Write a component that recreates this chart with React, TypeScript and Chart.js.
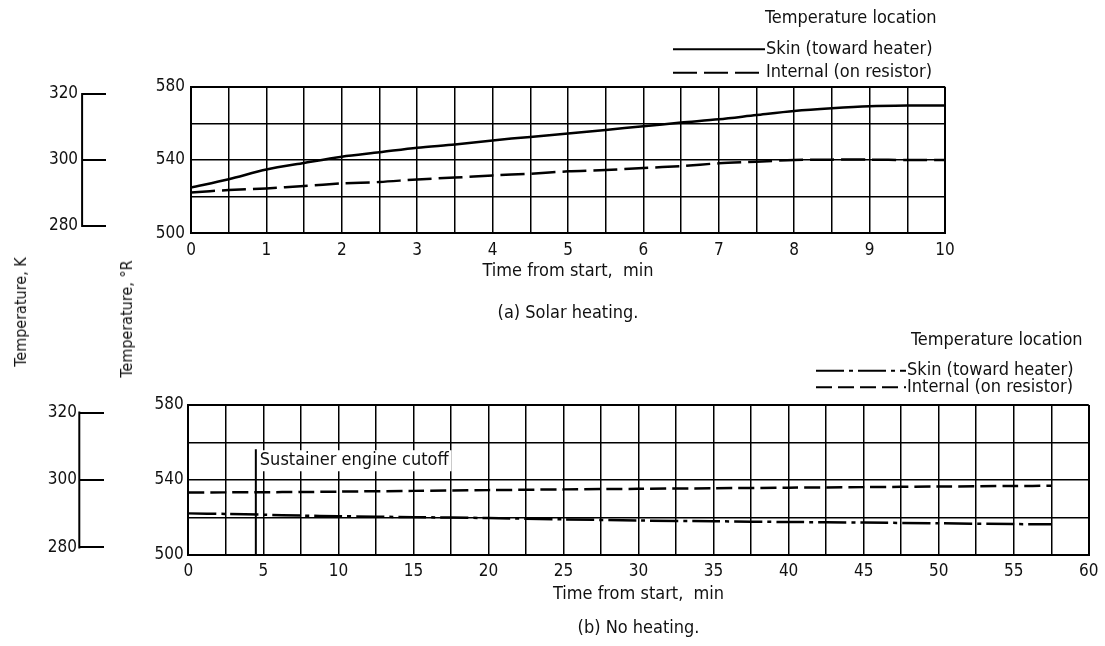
import React, { useEffect, useRef } from 'react';
import { Chart, registerables } from 'chart.js';

Chart.register(...registerables);

const TEXT_FONT = "'DejaVu Sans Condensed', 'DejaVu Sans', sans-serif";
const TICK_FONT = "'DejaVu Sans Condensed', 'DejaVu Sans', sans-serif";
const INK = '#111';

// ---- (a) Solar heating ----
const solarTime = [0, 0.5, 1, 1.5, 2, 2.5, 3, 3.5, 4, 4.5, 5, 5.5, 6, 6.5, 7, 7.5, 8, 8.5, 9, 9.5, 10];
const solarSkin = [525.0, 529.5, 534.8, 538.4, 541.8, 544.2, 546.7, 548.5, 550.7, 552.6, 554.4, 556.4, 558.4, 560.4, 562.2, 564.5, 566.7, 568.2, 569.3, 569.7, 569.8];
const solarInternal = [522.3, 523.6, 524.5, 525.8, 527.2, 528.0, 529.4, 530.4, 531.6, 532.5, 533.8, 534.5, 535.6, 536.7, 538.2, 539.1, 540.0, 540.2, 540.2, 540.0, 540.0];
const solarTimeLabels = [0, 1, 2, 3, 4, 5, 6, 7, 8, 9, 10];

// ---- (b) No heating ----
const noHeatTime = [0, 2.5, 5, 7.5, 10, 15, 20, 25, 30, 35, 40, 45, 50, 55, 57.5];
const noHeatSkin = [522.2, 521.9, 521.5, 521.0, 520.7, 520.2, 519.7, 519.0, 518.4, 518.0, 517.6, 517.3, 516.9, 516.5, 516.4];
const noHeatInternal = [533.3, 533.4, 533.5, 533.6, 533.8, 534.2, 534.6, 535.0, 535.3, 535.6, 535.9, 536.2, 536.5, 536.8, 536.9];
const noHeatTimeLabels = [0, 5, 10, 15, 20, 25, 30, 35, 40, 45, 50, 55, 60];
const cutoffTime = [4.5, 4.5];
const cutoffTemp = [500, 556.4];
const cutoffText = 'Sustainer engine cutoff';

// ---- shared ----
const rankineTickLabels = [500, 540, 580];
const kelvinTicks = [280, 300, 320];
const legendTitle = 'Temperature location';
const seriesNames = ['Skin (toward heater)', 'Internal (on resistor)'];
const xTitle = 'Time from start,  min';

const pts = (xs: number[], ys: number[]) => xs.map((x, i) => ({ x, y: ys[i] }));

const kelvinBracket = {
  id: 'kelvinBracket',
  afterDraw(chart: any) {
    const s = chart.scales.yK;
    if (!s) return;
    const x = s.right - s.options.grid.tickLength;
    const ctx = chart.ctx;
    ctx.save();
    ctx.strokeStyle = '#000';
    ctx.lineWidth = 2;
    ctx.beginPath();
    ctx.moveTo(x, s.getPixelForValue(Math.max(...kelvinTicks)) - 1);
    ctx.lineTo(x, s.getPixelForValue(Math.min(...kelvinTicks)) + 1);
    ctx.stroke();
    ctx.restore();
  },
};

const lineLegend = {
  id: 'lineLegend',
  afterDraw(chart: any, _args: any, opts: any) {
    if (!opts || !opts.title) return;
    const ctx = chart.ctx;
    ctx.save();
    ctx.font = `18px ${TEXT_FONT}`;
    ctx.fillStyle = INK;
    ctx.textBaseline = 'middle';
    ctx.textAlign = 'left';
    ctx.fillText(opts.title, opts.titleX, opts.titleY);
    let k = 0;
    chart.data.datasets.forEach((ds: any) => {
      if (!ds.label) return;
      const y = opts.itemYs[k++];
      ctx.strokeStyle = '#000';
      ctx.lineWidth = 2;
      ctx.setLineDash(ds.borderDash || []);
      ctx.beginPath();
      ctx.moveTo(opts.lineX0, y);
      ctx.lineTo(opts.textX - 1, y);
      ctx.stroke();
      ctx.setLineDash([]);
      ctx.fillText(ds.label, opts.textX, y);
    });
    ctx.restore();
  },
};

const cutoffNote = {
  id: 'cutoffNote',
  afterDatasetsDraw(chart: any) {
    const idx = chart.data.datasets.findIndex((d: any) => d.note);
    if (idx < 0) return;
    const meta = chart.getDatasetMeta(idx);
    const els = meta.data;
    if (!els.length) return;
    const top = Math.min(...els.map((p: any) => p.y));
    const x = els[0].x;
    const text = chart.data.datasets[idx].note;
    const ctx = chart.ctx;
    ctx.save();
    ctx.font = `18px ${TEXT_FONT}`;
    const w = ctx.measureText(text).width;
    ctx.fillStyle = '#fff';
    ctx.fillRect(x + 2, top + 1, w + 5, 21);
    ctx.fillStyle = INK;
    ctx.textBaseline = 'middle';
    ctx.textAlign = 'left';
    ctx.fillText(text, x + 4, top + 11.5);
    ctx.restore();
  },
};

function edgeWidth(min: number, max: number) {
  return (c: any) => (c.tick && (c.tick.value === min || c.tick.value === max) ? 2 : 1.5);
}

interface Layout {
  padTop: number; padRight: number; padBottom: number;
  yKWidth: number; yWidth: number; tickLen: number; kPad: number; yPad: number;
  xHeight: number; xPad: number; xTitlePad: number;
}

function makeConfig(opts: {
  datasets: any[]; xMax: number; xStep: number; xLabels: number[]; caption: string;
  layout: Layout; legend: any;
}) {
  const L = opts.layout;
  const tickFont = { family: TICK_FONT, size: 17 };
  const textFont = { family: TEXT_FONT, size: 18, weight: 'normal' as const };
  return {
    type: 'line' as const,
    data: { datasets: opts.datasets },
    plugins: [kelvinBracket, lineLegend, cutoffNote],
    options: {
      responsive: false,
      animation: false as const,
      events: [] as any[],
      layout: { padding: { top: L.padTop, right: L.padRight, bottom: L.padBottom, left: 0 } },
      elements: { point: { radius: 0 }, line: { tension: 0.3, borderCapStyle: 'butt' as const } },
      plugins: {
        legend: { display: false },
        tooltip: { enabled: false },
        title: {
          display: true, position: 'bottom' as const, text: opts.caption, fullSize: false,
          font: textFont, color: INK, padding: 0,
        },
        lineLegend: opts.legend,
      },
      scales: {
        x: {
          type: 'linear' as const, position: 'bottom' as const, min: 0, max: opts.xMax,
          ticks: {
            stepSize: opts.xStep, autoSkip: false, maxRotation: 0, padding: L.xPad,
            font: tickFont, color: INK,
            callback: (v: any) => (opts.xLabels.includes(Number(v)) ? String(v) : ''),
          },
          grid: { color: '#000', lineWidth: edgeWidth(0, opts.xMax), drawTicks: false },
          border: { display: true, color: '#000', width: 2 },
          title: { display: true, text: xTitle, font: textFont, color: INK, padding: { top: 0, bottom: L.xTitlePad } },
          afterFit: (ax: any) => { ax.height = L.xHeight; },
        },
        y: {
          type: 'linear' as const, position: 'left' as const, min: 500, max: 580, weight: 0,
          ticks: {
            stepSize: 20, padding: L.yPad, font: tickFont, color: INK,
            callback: (v: any) => (rankineTickLabels.includes(Number(v)) ? String(v) : ''),
          },
          grid: { color: '#000', lineWidth: edgeWidth(500, 580), drawTicks: false },
          border: { display: true, color: '#000', width: 2 },
          afterFit: (ax: any) => { ax.width = L.yWidth; },
        },
        yK: {
          type: 'linear' as const, position: 'left' as const, weight: 1,
          min: 500 / 1.8, max: 580 / 1.8,
          afterBuildTicks: (ax: any) => { ax.ticks = kelvinTicks.map((v) => ({ value: v })); },
          ticks: { padding: L.kPad, font: tickFont, color: INK, callback: (v: any) => String(v) },
          grid: { display: true, drawOnChartArea: false, drawTicks: true, tickLength: L.tickLen, color: '#000', lineWidth: 2 },
          border: { display: false },
          afterFit: (ax: any) => { ax.width = L.yKWidth; },
        },
      },
    },
  };
}

function topConfig() {
  return makeConfig({
    datasets: [
      { label: seriesNames[0], data: pts(solarTime, solarSkin), borderColor: '#000', borderWidth: 2.5, fill: false },
      { label: seriesNames[1], data: pts(solarTime, solarInternal), borderColor: '#000', borderWidth: 2.5, borderDash: [24, 7], fill: false },
    ],
    xMax: 10, xStep: 0.5, xLabels: solarTimeLabels, caption: '(a) Solar heating.',
    layout: {
      padTop: 86.7, padRight: 160, padBottom: 0.9,
      yKWidth: 106.4, yWidth: 84.6, tickLen: 24.3, kPad: 4, yPad: 6,
      xHeight: 69.2, xPad: 7.5, xTitlePad: 20,
    },
    legend: { title: legendTitle, titleX: 765, titleY: 18.3, itemYs: [49.3, 72.7], lineX0: 673, textX: 766 },
  });
}

function bottomConfig() {
  return makeConfig({
    datasets: [
      { label: seriesNames[0], data: pts(noHeatTime, noHeatSkin), borderColor: '#000', borderWidth: 2.5, borderDash: [28, 5, 4, 5], fill: false },
      { label: seriesNames[1], data: pts(noHeatTime, noHeatInternal), borderColor: '#000', borderWidth: 2.5, borderDash: [16, 6], fill: false },
      { label: '', note: cutoffText, data: pts(cutoffTime, cutoffTemp), borderColor: '#000', borderWidth: 2, tension: 0, fill: false },
    ],
    xMax: 60, xStep: 2.5, xLabels: noHeatTimeLabels, caption: '(b) No heating.',
    layout: {
      padTop: 80, padRight: 11.7, padBottom: 6.9,
      yKWidth: 103.6, yWidth: 84.7, tickLen: 24.3, kPad: 2.3, yPad: 4.5,
      xHeight: 62.5, xPad: 6.5, xTitlePad: 12.4,
    },
    legend: { title: legendTitle, titleX: 911, titleY: 15, itemYs: [45.7, 62.3], lineX0: 816, textX: 907 },
  });
}

function ChartCanvas({ make, top, height }: { make: () => any; top: number; height: number }) {
  const ref = useRef<HTMLCanvasElement>(null);
  useEffect(() => {
    if (!ref.current) return;
    const chart = new Chart(ref.current, make());
    return () => chart.destroy();
  }, []);
  return (
    <canvas
      ref={ref}
      width={1105}
      height={height}
      style={{ position: 'absolute', left: 0, top, width: 1105, height, display: 'block' }}
    />
  );
}

function VTitle({ text, cx, cy }: { text: string; cx: number; cy: number }) {
  return (
    <div
      style={{
        position: 'absolute', left: cx, top: cy,
        transform: 'translate(-50%, -50%) rotate(-90deg)',
        whiteSpace: 'nowrap', fontFamily: TEXT_FONT, fontSize: 16, lineHeight: '16px', color: INK,
      }}
    >
      {text}
    </div>
  );
}

export default function App() {
  return (
    <div style={{ position: 'absolute', left: 0, top: 0, width: 1105, height: 646, background: '#fff', overflow: 'hidden' }}>
      <ChartCanvas make={topConfig} top={0} height={325} />
      <ChartCanvas make={bottomConfig} top={325} height={321} />
      <VTitle text="Temperature, K" cx={21} cy={312} />
      <VTitle text="Temperature, °R" cx={127} cy={319} />
    </div>
  );
}
